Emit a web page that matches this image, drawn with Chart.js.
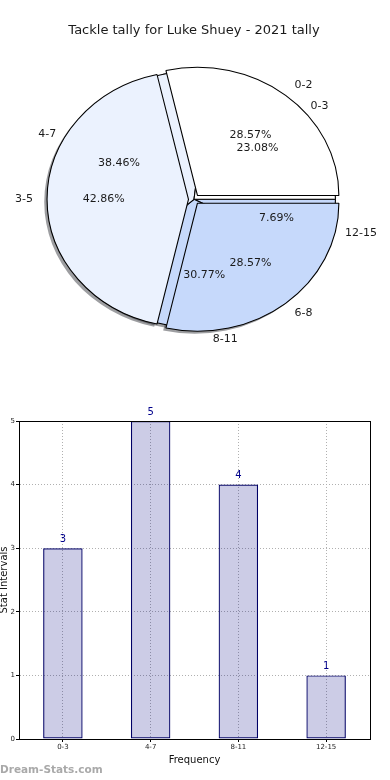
<!DOCTYPE html>
<html>
<head>
<meta charset="utf-8">
<script src="https://cdn.jsdelivr.net/npm/chart.js@4.4.0/dist/chart.umd.min.js"></script>
<style>
  html, body { margin: 0; padding: 0; background: #fff; }
  #wrap { position: relative; width: 390px; height: 780px; overflow: hidden; }
  #pieBox { position: absolute; left: -1px; top: 0; width: 390px; height: 360px; }
  #barBox { position: absolute; left: -2px; top: 400px; width: 392px; height: 380px; }
  #mark { position: absolute; left: 0; top: 763px; font: bold 10.5px "DejaVu Sans", sans-serif; color: #a9a9a9; }
</style>
</head>
<body>
<div id="wrap">
  <div id="pieBox"><canvas id="pieChart"></canvas></div>
  <div id="barBox"><canvas id="barChart"></canvas></div>
  <div id="mark">Dream-Stats.com</div>
</div>
<script>
// first pie: 3 bands
const bandLabels = ["0-2", "3-5", "6-8"];
const bandCounts = [2, 3, 2];

// second pie and the bar chart: 4 bands
const intervalLabels = ["0-3", "4-7", "8-11", "12-15"];
const intervalCounts = [3, 5, 4, 1];

const yTicks = [0, 1, 2, 3, 4, 5];

const FONT = '"DejaVu Sans", sans-serif';
const PIE_R = 128;       // vertical radius, px
const STRETCH = 1.105;   // the pie axes are not square, so it comes out as an ellipse
const EXPLODE = 5;       // px, first pie only
const SHADOW_DX = -2.8;
const SHADOW_DY = 2.6;

const bandColors = ["#ffffff", "#ebf2fe", "#c6d9fb"];
const intervalColors = ["#ffffff", "#ebf2fe", "#c6d9fb", "#c6d9fb"];

// matplotlib goes counter-clockwise from 3 o'clock, chart.js clockwise -> reverse
const rev = (a) => a.slice().reverse();

const ellipsePie = {
  id: "ellipsePie",
  afterDatasetsUpdate(chart) {
    const a = chart.chartArea;
    const cx = (a.left + a.right) / 2;
    const cy = (a.top + a.bottom) / 2;
    chart.$center = { cx, cy };
    // both pies use the full radius and sit on top of each other
    chart.data.datasets.forEach((ds, i) => {
      chart.getDatasetMeta(i).data.forEach((arc) => {
        const mid = (arc.startAngle + arc.endAngle) / 2;
        arc.innerRadius = 0;
        arc.outerRadius = PIE_R;
        arc.x = cx + Math.cos(mid) * ds.explode;
        arc.y = cy + Math.sin(mid) * ds.explode;
      });
    });
  },
  beforeDatasetsDraw(chart) {
    const ctx = chart.ctx;
    const { cx, cy } = chart.$center;
    ctx.save();
    ctx.translate(cx, cy);
    ctx.scale(STRETCH, 1);
    ctx.translate(-cx, -cy);

    // shadows go under every wedge
    ctx.save();
    ctx.translate(SHADOW_DX / STRETCH, SHADOW_DY);
    chart.data.datasets.forEach((ds, i) => {
      chart.getDatasetMeta(i).data.forEach((arc) => {
        const opts = arc.options;
        arc.options = Object.assign({}, opts, { backgroundColor: "rgba(60,62,68,0.5)", borderWidth: 0 });
        arc.draw(ctx);
        arc.options = opts;
      });
    });
    ctx.restore();
  },
  afterDatasetsDraw(chart) {
    const ctx = chart.ctx;
    ctx.restore();
    const { cx, cy } = chart.$center;

    ctx.save();
    ctx.fillStyle = "#1a1a1a";
    ctx.font = "11px " + FONT;
    ctx.textBaseline = "middle";
    chart.data.datasets.forEach((ds, i) => {
      const total = ds.data.reduce((s, v) => s + v, 0);
      chart.getDatasetMeta(i).data.forEach((arc, j) => {
        const mid = (arc.startAngle + arc.endAngle) / 2;
        const cos = Math.cos(mid), sin = Math.sin(mid);
        const ex = arc.x - cx, ey = arc.y - cy;
        const at = (f) => [cx + STRETCH * (ex + f * PIE_R * cos), cy + ey + f * PIE_R * sin];

        const [lx, ly] = at(1.1);
        ctx.textAlign = cos > 0 ? "left" : "right";
        ctx.fillText(ds.names[j], lx, ly);

        const [px, py] = at(0.6);
        ctx.textAlign = "center";
        ctx.fillText((ds.data[j] / total * 100).toFixed(2) + "%", px, py);
      });
    });
    ctx.restore();
  }
};

new Chart(document.getElementById("pieChart"), {
  type: "pie",
  data: {
    labels: rev(intervalLabels),
    datasets: [
      {
        data: rev(bandCounts),
        names: rev(bandLabels),
        backgroundColor: rev(bandColors),
        explode: EXPLODE,
        clip: false
      },
      {
        data: rev(intervalCounts),
        names: rev(intervalLabels),
        backgroundColor: rev(intervalColors),
        explode: 0,
        clip: false
      }
    ]
  },
  options: {
    responsive: true,
    maintainAspectRatio: false,
    animation: false,
    events: [],
    rotation: 90,
    layout: { padding: 0 },
    elements: { arc: { borderColor: "#000", borderWidth: 1 } },
    plugins: {
      legend: { display: false },
      tooltip: { enabled: false },
      title: {
        display: true,
        text: "Tackle tally for Luke Shuey - 2021 tally",
        color: "#1a1a1a",
        font: { family: FONT, size: 13, weight: "normal" },
        padding: { top: 23, bottom: 0 }
      }
    }
  },
  plugins: [ellipsePie]
});

// black box round the plot area
const frame = {
  id: "frame",
  afterDatasetsDraw(chart) {
    const { left, top, right, bottom } = chart.chartArea;
    const ctx = chart.ctx;
    ctx.save();
    ctx.strokeStyle = "#000";
    ctx.lineWidth = 1;
    ctx.strokeRect(Math.round(left) + 0.5, Math.round(top) + 0.5,
      Math.round(right - left), Math.round(bottom - top));
    ctx.restore();
  }
};

// count above each bar
const valueLabels = {
  id: "valueLabels",
  afterDatasetsDraw(chart) {
    const ctx = chart.ctx;
    const ds = chart.data.datasets[0];
    ctx.save();
    ctx.fillStyle = "#00008b";
    ctx.font = "10px " + FONT;
    ctx.textAlign = "center";
    ctx.textBaseline = "middle";
    chart.getDatasetMeta(0).data.forEach((bar, i) => {
      ctx.fillText(String(ds.data[i]), bar.x, bar.y - 9);
    });
    ctx.restore();
  }
};

new Chart(document.getElementById("barChart"), {
  type: "bar",
  data: {
    labels: intervalLabels,
    datasets: [{
      data: intervalCounts,
      backgroundColor: "rgba(0, 0, 128, 0.2)", // see-through, so the grid shows
      borderColor: "#000066",
      borderWidth: 1.2,
      borderSkipped: false,
      barPercentage: 0.45,
      categoryPercentage: 1
    }]
  },
  options: {
    responsive: true,
    maintainAspectRatio: false,
    animation: false,
    events: [],
    layout: { padding: { top: 21, right: 20, bottom: 13.6, left: 0 } },
    plugins: {
      legend: { display: false },
      tooltip: { enabled: false }
    },
    scales: {
      x: {
        grid: { offset: false, color: "#b0b0b0", tickLength: 3, tickColor: "#000" },
        border: { color: "#000", dash: [1, 2] },
        ticks: { padding: 1, color: "#222", font: { family: FONT, size: 7 } },
        title: {
          display: true,
          text: "Frequency",
          color: "#111",
          font: { family: FONT, size: 10 },
          padding: { top: 2, bottom: 0 }
        }
      },
      y: {
        min: yTicks[0],
        max: yTicks[yTicks.length - 1],
        afterBuildTicks: (s) => { s.ticks = yTicks.map((v) => ({ value: v })); },
        afterFit: (s) => { s.width = 21; },
        grid: { color: "#b0b0b0", tickLength: 3, tickColor: "#000" },
        border: { color: "#000", dash: [1, 2] },
        ticks: { padding: 1, color: "#222", font: { family: FONT, size: 7 } },
        title: {
          display: true,
          text: "Stat Intervals",
          color: "#111",
          font: { family: FONT, size: 10 },
          padding: { top: 0, bottom: 0 }
        }
      }
    }
  },
  plugins: [frame, valueLabels]
});
</script>
</body>
</html>
